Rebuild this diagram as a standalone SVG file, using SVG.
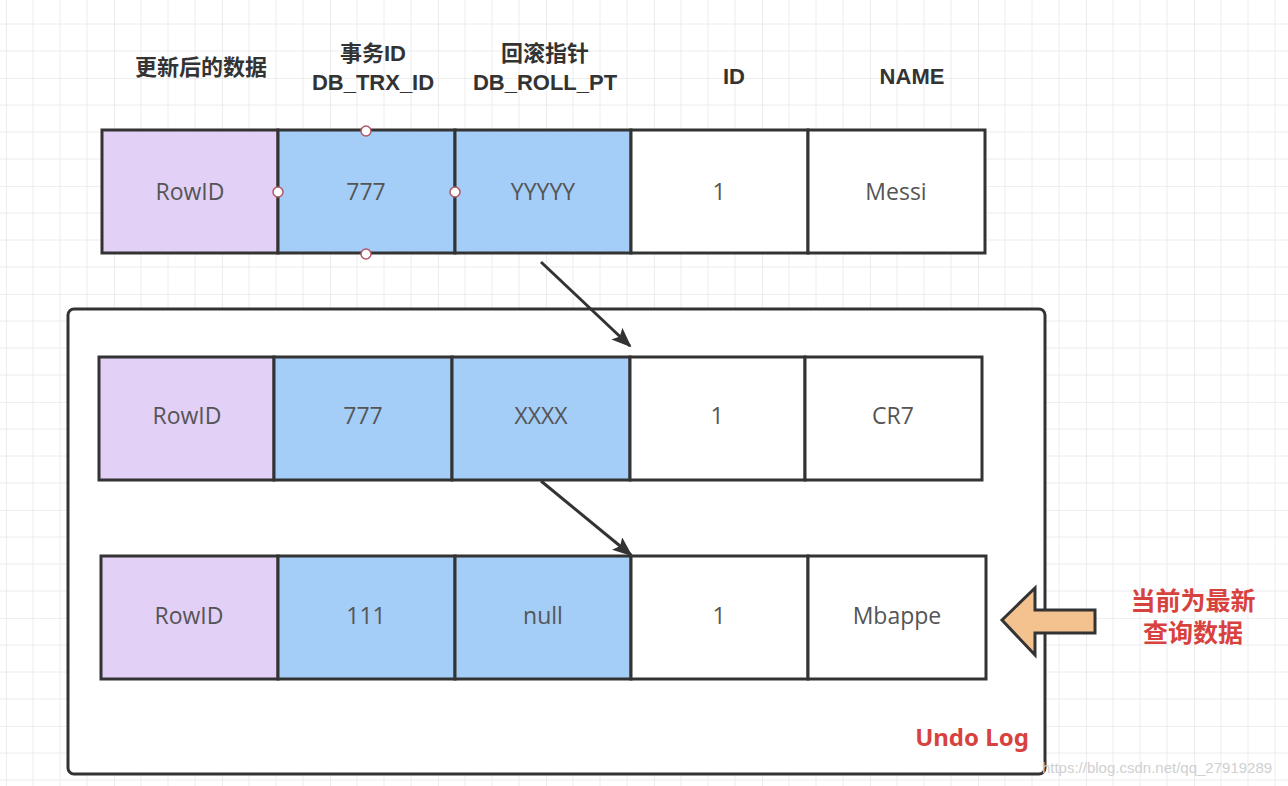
<svg xmlns="http://www.w3.org/2000/svg" width="1288" height="786" viewBox="0 0 1288 786">
<defs>
<pattern id="g" x="6" y="-30" width="108" height="108" patternUnits="userSpaceOnUse">
<path d="M27 0V108M54 0V108M81 0V108M0 27H108M0 54H108M0 81H108" stroke="#ececec" stroke-width="1" fill="none"/>
<path d="M0 0V108M0 0H108" stroke="#e0e0e0" stroke-width="1.2" fill="none"/>
</pattern>
<marker id="ah" markerWidth="20" markerHeight="16" refX="18" refY="8" orient="auto" markerUnits="userSpaceOnUse" viewBox="0 0 20 16">
<path d="M0 0L20 8L0 16L4 8Z" fill="#333"/>
</marker>
<style>
.c{stroke:#333;stroke-width:3}
.p{fill:#E2D0F6}
.b{fill:#A4CDF8}
.w{fill:#fff}
.t{font-family:"Open Sans","Liberation Sans",sans-serif;font-size:23px;fill:#555;text-anchor:middle}
.h{font-family:"Liberation Sans","Noto Sans CJK SC",sans-serif;font-size:22px;font-weight:bold;fill:#333;text-anchor:middle}
.r{font-family:"Noto Sans","Noto Sans CJK SC",sans-serif;font-weight:bold;fill:#D8423E;text-anchor:middle}
.dot{fill:#fff;stroke:#B35565;stroke-width:1.5}
</style>
</defs>
<rect width="1288" height="786" fill="#fff"/>
<rect width="1288" height="786" fill="url(#g)"/>

<g id="undo-log">
<rect x="68" y="309" width="977" height="465" rx="6" fill="#fff" stroke="#333" stroke-width="3"/>
<text class="r" x="972" y="746" font-size="24">Undo Log</text>
</g>

<g id="headers">
<text class="h" x="201" y="75">更新后的数据</text>
<text class="h" x="373" y="61">事务ID</text>
<text class="h" x="373" y="90">DB_TRX_ID</text>
<text class="h" x="545" y="61">回滚指针</text>
<text class="h" x="545" y="90">DB_ROLL_PT</text>
<text class="h" x="734" y="84">ID</text>
<text class="h" x="912" y="84">NAME</text>
</g>

<g id="row1">
<rect class="c p" x="102" y="130" width="176" height="123"/>
<rect class="c b" x="278" y="130" width="177" height="123"/>
<rect class="c b" x="455" y="130" width="176" height="123"/>
<rect class="c w" x="631" y="130" width="177" height="123"/>
<rect class="c w" x="808" y="130" width="177" height="123"/>
<text class="t" x="190" y="200">RowID</text>
<text class="t" x="366" y="200">777</text>
<text class="t" x="543" y="200">YYYYY</text>
<text class="t" x="719" y="200">1</text>
<text class="t" x="896" y="200">Messi</text>
<circle class="dot" cx="366" cy="131" r="5"/>
<circle class="dot" cx="278" cy="192" r="5"/>
<circle class="dot" cx="455" cy="192" r="5"/>
<circle class="dot" cx="366" cy="254" r="5"/>
</g>

<g id="row2">
<rect class="c p" x="99" y="357" width="175" height="123"/>
<rect class="c b" x="274" y="357" width="178" height="123"/>
<rect class="c b" x="452" y="357" width="178" height="123"/>
<rect class="c w" x="630" y="357" width="175" height="123"/>
<rect class="c w" x="805" y="357" width="177" height="123"/>
<text class="t" x="187" y="424">RowID</text>
<text class="t" x="363" y="424">777</text>
<text class="t" x="541" y="424">XXXX</text>
<text class="t" x="717" y="424">1</text>
<text class="t" x="893" y="424">CR7</text>
</g>

<g id="row3">
<rect class="c p" x="101" y="556" width="177" height="123"/>
<rect class="c b" x="278" y="556" width="177" height="123"/>
<rect class="c b" x="455" y="556" width="176" height="123"/>
<rect class="c w" x="631" y="556" width="177" height="123"/>
<rect class="c w" x="808" y="556" width="178" height="123"/>
<text class="t" x="189" y="624">RowID</text>
<text class="t" x="366" y="624">111</text>
<text class="t" x="543" y="624">null</text>
<text class="t" x="719" y="624">1</text>
<text class="t" x="897" y="624">Mbappe</text>
</g>

<g id="current-label">
<path d="M1002 620L1035 588V610H1095V633H1035V655Z" fill="#F3C28F" stroke="#333" stroke-width="3" stroke-linejoin="miter"/>
<text class="r" x="1193" y="610" font-size="25">当前为最新</text>
<text class="r" x="1193" y="642" font-size="25">查询数据</text>
</g>

<g id="connectors">
<line x1="541" y1="262" x2="630" y2="346" stroke="#333" stroke-width="3" marker-end="url(#ah)"/>
<line x1="541" y1="481" x2="631" y2="555" stroke="#333" stroke-width="3" marker-end="url(#ah)"/>
</g>

<text x="1157" y="773" font-family="Liberation Sans, sans-serif" font-size="15" fill="#d0d0d0" text-anchor="middle">https://blog.csdn.net/qq_27919289</text>
</svg>
